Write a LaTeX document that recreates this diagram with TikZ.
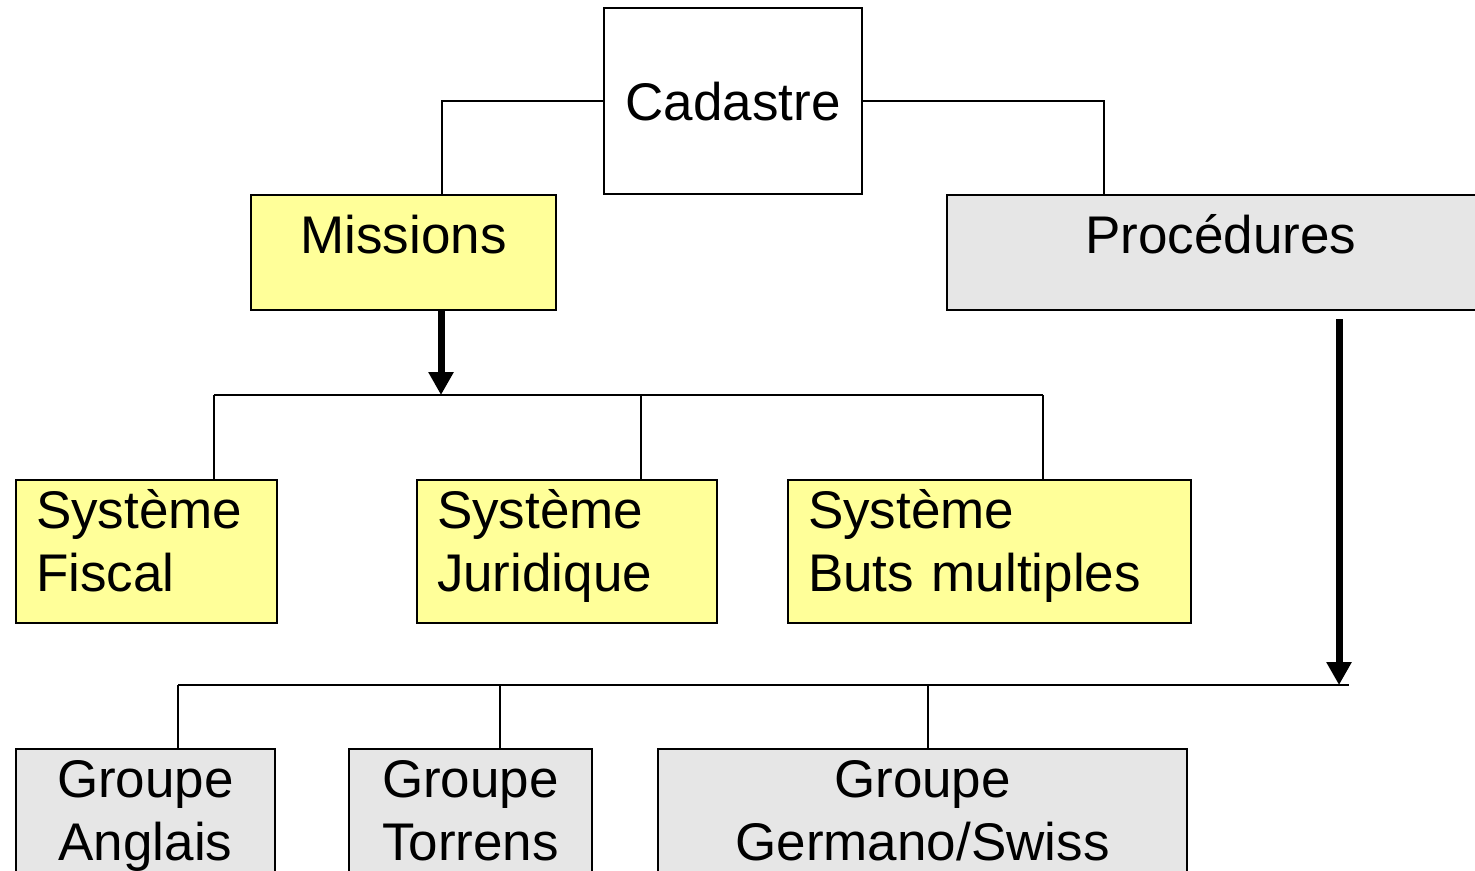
\documentclass[tikz,border=0pt]{standalone}
\usepackage{fontspec}
\setmainfont{Liberation Sans}
\usetikzlibrary{arrows.meta}
\definecolor{paleyellow}{HTML}{FFFF99}
\definecolor{palegrey}{HTML}{E6E6E6}
\tikzset{
    box/.style={draw, line width=1pt, inner sep=0pt, font=\fontsize{26.5}{31.5}\selectfont},
    yellowbox/.style={box, fill=paleyellow},
    greybox/.style={box, fill=palegrey},
    link/.style={line width=1pt},
    bigarrow/.style={line width=3.5pt, -{Triangle[width=12pt,length=11.5pt]}},
}

\begin{document}
\begin{tikzpicture}[x=0.5pt,y=-0.5pt]
\useasboundingbox (0,0) rectangle (1475,871);
\clip (0,0) rectangle (1475,871);
% top level
\node[box, fill=white, align=center, text width=129pt, text height=56.5pt, text depth=36.5pt] (cad) at (733,101) {Cadastre};
\node[yellowbox, align=center, text width=152.5pt, text height=29.5pt, text depth=28pt] (mis) at (403.5,252.5) {Missions};
\node[greybox, align=center, text width=274pt, text height=29.5pt, text depth=28pt] (proc) at (1221,252.5) {Procédures};
% systems
\tikzset{sysbox/.style={yellowbox, align=left, inner xsep=10pt, text height=24pt, text depth=47.5pt}}
\node[sysbox, text width=110.5pt] (fisc) at (146.5,551.5) {Système\\Fiscal};
\node[sysbox, text width=130pt] (juri) at (567,551.5) {Système\\Juridique};
\node[sysbox, text width=181.5pt] (buts) at (989.5,551.5) {Système\\Buts multiples};
% groups
\tikzset{grpbox/.style={greybox, align=center, text height=24pt, text depth=51.5pt}}
\node[grpbox, text width=129.5pt] (angl) at (145.5,824.5) {Groupe\\Anglais};
\node[grpbox, text width=121.5pt] (torr) at (470.5,824.5) {Groupe\\Torrens};
\node[grpbox, text width=264.5pt] (germ) at (922.5,824.5) {Groupe\\Germano/Swiss};
% bus points
\coordinate (misbus) at (441,395);
\coordinate (misbusl) at (214,395);
\coordinate (juribus) at (641,395);
\coordinate (misbusr) at (1043,395);
\coordinate (procbus) at (1339,685);
\coordinate (procbusl) at (178,685);
\coordinate (torrbus) at (500,685);
\coordinate (germbus) at (928,685);
\coordinate (procbusr) at (1349,685);
% connectors
\draw[link] (cad.west) -| ([xshift=19.25pt]mis.north);
\draw[link] (cad.east) -| ([xshift=-58.5pt]proc.north);
\draw[bigarrow] (mis.south -| misbus) -- (misbus);
\draw[link] (misbusl) -- (misbusr);
\foreach \b/\n in {misbusl/fisc, juribus/juri, misbusr/buts} {
\draw[link] (\b) -- (\b |- \n.north);
}
\draw[bigarrow] ([yshift=-4pt]proc.south -| procbus) -- (procbus);
\draw[link] (procbusl) -- (procbusr);
\foreach \b/\n in {procbusl/angl, torrbus/torr, germbus/germ} {
\draw[link] (\b) -- (\b |- \n.north);
}
\end{tikzpicture}
\end{document}
